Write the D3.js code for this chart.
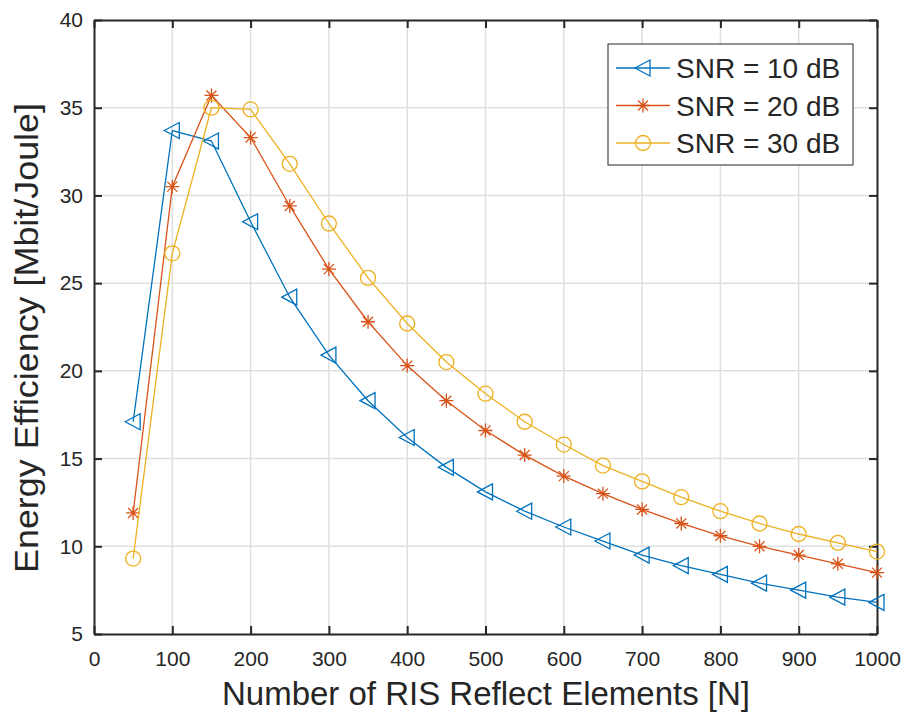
<!DOCTYPE html>
<html>
<head>
<meta charset="utf-8">
<script src="https://cdn.jsdelivr.net/npm/d3@7"></script>
<style>
body { margin: 0; background: #fff; }
text { font-family: "Liberation Sans", Arial, sans-serif; fill: #262626; }
</style>
</head>
<body>
<div id="chart"></div>
<script>
var elements = [50, 100, 150, 200, 250, 300, 350, 400, 450, 500, 550, 600, 650, 700, 750, 800, 850, 900, 950, 1000];
var snr10 = [17.1, 33.7, 33.1, 28.5, 24.2, 20.9, 18.3, 16.2, 14.5, 13.1, 12.0, 11.1, 10.3, 9.5, 8.9, 8.4, 7.9, 7.5, 7.1, 6.8];
var snr20 = [11.9, 30.5, 35.7, 33.3, 29.4, 25.8, 22.8, 20.3, 18.3, 16.6, 15.2, 14.0, 13.0, 12.1, 11.3, 10.6, 10.0, 9.5, 9.0, 8.5];
var snr30 = [9.3, 26.7, 35.0, 34.9, 31.8, 28.4, 25.3, 22.7, 20.5, 18.7, 17.1, 15.8, 14.6, 13.7, 12.8, 12.0, 11.3, 10.7, 10.2, 9.7];
var seriesNames = ["SNR = 10 dB", "SNR = 20 dB", "SNR = 30 dB"];
var xTicks = [0, 100, 200, 300, 400, 500, 600, 700, 800, 900, 1000];
var yTicks = [5, 10, 15, 20, 25, 30, 35, 40];

function init(){
    var W = 908, H = 718;
    var left = 94, right = 877, top = 20, bottom = 634;
    var colors = ["#0072BD", "#D95319", "#EDB120"];
    var shapes = ["tri", "star", "circle"];

    var xScale = d3.scaleLinear().domain([0, 1000]).range([left, right]);
    var yScale = d3.scaleLinear().domain([5, 40]).range([bottom, top]);

    var svg = d3.select("#chart").append("svg")
        .attr("width", W).attr("height", H);

    // grid
    svg.append("g").selectAll("line").data(xTicks.slice(1, -1)).enter().append("line")
        .attr("x1", d => xScale(d)).attr("x2", d => xScale(d))
        .attr("y1", top).attr("y2", bottom)
        .attr("stroke", "#dfdfdf").attr("stroke-width", 1.5);
    svg.append("g").selectAll("line").data(yTicks.slice(1, -1)).enter().append("line")
        .attr("y1", d => yScale(d)).attr("y2", d => yScale(d))
        .attr("x1", left).attr("x2", right)
        .attr("stroke", "#dfdfdf").attr("stroke-width", 1.5);

    // axes (MATLAB style: inward ticks on all four sides)
    var xAxis = d3.axisBottom(xScale).tickValues(xTicks).tickFormat(d3.format("d"))
        .tickSizeInner(-8).tickSizeOuter(0).tickPadding(17);
    var yAxis = d3.axisLeft(yScale).tickValues(yTicks).tickFormat(d3.format("d"))
        .tickSizeInner(-8).tickSizeOuter(0).tickPadding(11);
    var xTop = d3.axisTop(xScale).tickValues(xTicks).tickSizeInner(-8).tickSizeOuter(0).tickFormat("");
    var yRight = d3.axisRight(yScale).tickValues(yTicks).tickSizeInner(-8).tickSizeOuter(0).tickFormat("");

    function style(g){
        g.selectAll("path, line").attr("stroke", "#262626").attr("stroke-width", 2);
        g.selectAll("text").style("font-size", "21px").attr("fill", "#262626")
            .style("font-family", "'Liberation Sans', Arial, sans-serif");
    }
    svg.append("g").attr("transform", `translate(0,${bottom})`).call(xAxis).call(style);
    svg.append("g").attr("transform", `translate(${left},0)`).call(yAxis).call(style);
    svg.append("g").attr("transform", `translate(0,${top})`).call(xTop).call(style);
    svg.append("g").attr("transform", `translate(${right},0)`).call(yRight).call(style);

    // markers
    function marker(g, shape, color){
        if (shape == "tri") {
            g.append("path").attr("d", "M-8,0L7,-8L7,8Z")
                .attr("fill", "none").attr("stroke", color).attr("stroke-width", 1.3);
        } else if (shape == "circle") {
            g.append("circle").attr("r", 7.5)
                .attr("fill", "none").attr("stroke", color).attr("stroke-width", 1.3);
        } else {
            g.append("path").attr("d", "M-7,0H7M0,-7V7M-5,-5L5,5M-5,5L5,-5")
                .attr("fill", "none").attr("stroke", color).attr("stroke-width", 1.3);
        }
    }

    var allSeries = [snr10, snr20, snr30];
    var line = d3.line()
        .x(function(d, i) { return xScale(elements[i]); })
        .y(function(d) { return yScale(d); });

    allSeries.forEach(function(vals, k){
        svg.append("path").datum(vals)
            .attr("d", line)
            .attr("fill", "none")
            .attr("stroke", colors[k])
            .attr("stroke-width", 1.3);
        vals.forEach(function(v, i){
            var g = svg.append("g").attr("transform", `translate(${xScale(elements[i])},${yScale(v)})`);
            marker(g, shapes[k], colors[k]);
        });
    });

    // labels
    svg.append("text")
        .attr("x", 486).attr("y", 705)
        .attr("text-anchor", "middle")
        .attr("textLength", 528).attr("lengthAdjust", "spacingAndGlyphs")
        .style("font-size", "33px")
        .text("Number of RIS Reflect Elements [N]");
    svg.append("text")
        .attr("transform", "translate(38,338) rotate(-90)")
        .attr("text-anchor", "middle")
        .attr("textLength", 470).attr("lengthAdjust", "spacingAndGlyphs")
        .style("font-size", "33px")
        .text("Energy Efficiency [Mbit/Joule]");

    // legend
    var lg = svg.append("g");
    lg.append("rect").attr("x", 608).attr("y", 44).attr("width", 245).attr("height", 121)
        .attr("fill", "#fff").attr("stroke", "#262626").attr("stroke-width", 1);
    seriesNames.forEach(function(name, k){
        var cy = 68 + k * 37.5;
        lg.append("line").attr("x1", 616).attr("x2", 670).attr("y1", cy).attr("y2", cy)
            .attr("stroke", colors[k]).attr("stroke-width", 1.3);
        marker(lg.append("g").attr("transform", `translate(643,${cy})`), shapes[k], colors[k]);
        lg.append("text").attr("x", 676).attr("y", cy + 10)
            .style("font-size", "28px").text(name);
    });
}
window.onload = init;
</script>
</body>
</html>
